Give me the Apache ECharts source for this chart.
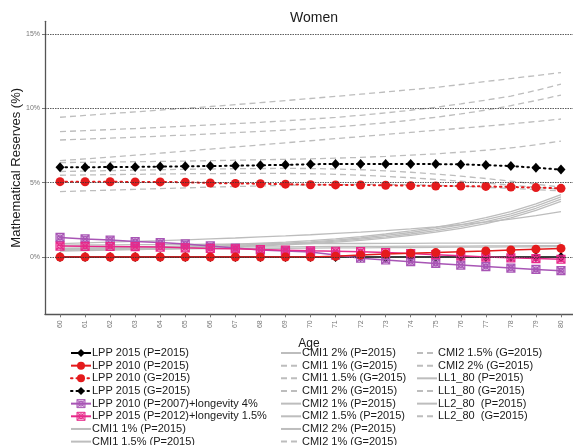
<!DOCTYPE html>
<html><head><meta charset="utf-8">
<script src="https://cdn.jsdelivr.net/npm/echarts@6/dist/echarts.min.js"></script>
<style>html,body{margin:0;padding:0;background:#fff}#c{width:573px;height:445px}</style>
</head><body><div id="c"></div>
<script>
const ages = [60,61,62,63,64,65,66,67,68,69,70,71,72,73,74,75,76,77,78,79,80];
const yTicks = [0,5,10,15];
// coloured series (%)
const lpp2015P = [0,0,0,0,0,0,0,0,0,0,0,0,0,0,0,0,0,0,0,0,0];
const lpp2010P = [0,0,0,0,0,0,0,0,0,0,0,0.05,0.13,0.2,0.26,0.3,0.36,0.41,0.47,0.53,0.58];
const lpp2010G = [5.07,5.06,5.06,5.05,5.05,5.03,4.98,4.95,4.93,4.9,4.86,4.85,4.84,4.83,4.8,4.78,4.77,4.75,4.71,4.67,4.62];
const lpp2015G = [6.03,6.04,6.05,6.06,6.08,6.1,6.12,6.14,6.17,6.2,6.24,6.26,6.26,6.26,6.25,6.25,6.23,6.18,6.12,6.0,5.88];
const lpp2010Long4 = [1.32,1.22,1.14,1.04,0.97,0.88,0.75,0.6,0.48,0.4,0.34,0.13,-0.08,-0.2,-0.31,-0.43,-0.54,-0.64,-0.74,-0.83,-0.92];
const lpp2015Long15 = [0.74,0.72,0.71,0.7,0.67,0.62,0.58,0.55,0.5,0.46,0.42,0.39,0.36,0.3,0.23,0.16,0.08,0.0,-0.05,-0.1,-0.15];
// grey P (period) series
const cmi1_1P = [0.55,0.58,0.62,0.66,0.7,0.75,0.8,0.86,0.93,1.0,1.1,1.22,1.37,1.55,1.76,2.0,2.3,2.65,3.05,3.57,4.2];
const cmi1_15P = [0.5,0.53,0.56,0.6,0.64,0.68,0.73,0.79,0.86,0.93,1.02,1.14,1.28,1.45,1.65,1.89,2.17,2.51,2.91,3.43,4.05];
const cmi1_2P = [0.45,0.48,0.51,0.55,0.59,0.63,0.68,0.74,0.8,0.87,0.96,1.07,1.2,1.36,1.55,1.78,2.05,2.38,2.77,3.28,3.9];
const cmi2_1P = [0.4,0.43,0.46,0.5,0.54,0.58,0.63,0.69,0.75,0.82,0.9,1.0,1.12,1.27,1.45,1.67,1.93,2.25,2.64,3.14,3.75];
const cmi2_15P = [0.9,0.95,1.0,1.05,1.1,1.16,1.22,1.28,1.35,1.42,1.5,1.59,1.68,1.78,1.9,2.03,2.18,2.35,2.55,2.78,3.05];
const cmi2_2P = [0.8,0.81,0.82,0.83,0.84,0.85,0.86,0.87,0.88,0.89,0.9,0.91,0.91,0.92,0.92,0.93,0.93,0.93,0.93,0.93,0.93];
const ll1P = [0.6,0.61,0.62,0.63,0.64,0.65,0.66,0.67,0.68,0.69,0.7,0.71,0.72,0.72,0.73,0.74,0.74,0.75,0.75,0.76,0.76];
const ll2P = [0.5,0.51,0.52,0.53,0.54,0.55,0.56,0.57,0.58,0.59,0.6,0.61,0.62,0.63,0.64,0.65,0.66,0.67,0.68,0.69,0.7];
// grey G (generational) series
const cmi1_1G = [9.4,9.52,9.64,9.76,9.88,10.0,10.12,10.25,10.38,10.52,10.66,10.8,10.95,11.1,11.25,11.4,11.6,11.8,12.0,12.2,12.4];
const cmi1_15G = [8.43,8.5,8.57,8.64,8.72,8.8,8.88,8.97,9.06,9.16,9.27,9.39,9.53,9.69,9.87,10.07,10.3,10.55,10.82,11.2,11.63];
const cmi1_2G = [7.87,7.93,7.99,8.06,8.13,8.2,8.28,8.36,8.45,8.54,8.64,8.75,8.88,9.03,9.2,9.4,9.62,9.88,10.18,10.52,10.89];
const cmi2_1G = [6.48,6.6,6.72,6.85,6.98,7.12,7.26,7.4,7.54,7.68,7.82,7.96,8.1,8.24,8.38,8.52,8.66,8.8,8.95,9.11,9.28];
const cmi2_15G = [6.35,6.37,6.39,6.41,6.43,6.45,6.48,6.51,6.54,6.57,6.6,6.65,6.7,6.77,6.85,6.94,7.05,7.18,7.34,7.55,7.8];
const cmi2_2G = [5.75,5.78,5.81,5.84,5.87,5.9,5.92,5.94,5.95,5.96,5.95,5.92,5.87,5.8,5.7,5.58,5.44,5.28,5.1,4.9,4.7];
const ll1G = [5.5,5.52,5.54,5.56,5.58,5.6,5.61,5.62,5.62,5.62,5.6,5.56,5.5,5.42,5.33,5.22,5.1,4.97,4.83,4.69,4.55];
const ll2G = [4.4,4.45,4.5,4.55,4.6,4.65,4.7,4.74,4.78,4.82,4.85,4.87,4.88,4.88,4.86,4.82,4.76,4.69,4.61,4.53,4.45];

const legendCol1 = ['LPP 2015 (P=2015)','LPP 2010 (P=2015)','LPP 2010 (G=2015)','LPP 2015 (G=2015)','LPP 2010 (P=2007)+longevity 4%','LPP 2015 (P=2012)+longevity 1.5%','CMI1 1% (P=2015)','CMI1 1.5% (P=2015)'];
const legendCol2 = ['CMI1 2% (P=2015)','CMI1 1% (G=2015)','CMI1 1.5% (G=2015)','CMI1 2% (G=2015)','CMI2 1% (P=2015)','CMI2 1.5% (P=2015)','CMI2 2% (P=2015)','CMI2 1% (G=2015)'];
const legendCol3 = ['CMI2 1.5% (G=2015)','CMI2 2% (G=2015)','LL1_80 (P=2015)','LL1_80 (G=2015)','LL2_80  (P=2015)','LL2_80  (G=2015)'];

const FONT = 'Liberation Sans, Arial, sans-serif';
const GREY = '#bdbdbd';
const PURPLE = '#a855b5', PINK = '#e7298a', RED = '#e41a1c';
const pair = arr => ages.map((a,i)=>[a,arr[i]]);
const sqx = 'path://M0,0L10,0L10,10L0,10Z M0,0L10,10 M10,0L0,10 M8,5A3,3 0 1 1 2,5A3,3 0 1 1 8,5';

function grey(name, arr, dashed){
  return {name, type:'line', data:pair(arr), symbol:'none', z:2,
    lineStyle:{color:GREY, width:1.3, type: dashed ? [6,4] : 'solid'},
    itemStyle:{color:'rgba(0,0,0,0)', borderWidth:0}, emphasis:{disabled:true}};
}
const series = [
  grey('CMI1 1% (G=2015)', cmi1_1G, true),
  grey('CMI1 1.5% (G=2015)', cmi1_15G, true),
  grey('CMI1 2% (G=2015)', cmi1_2G, true),
  grey('CMI2 1% (G=2015)', cmi2_1G, true),
  grey('CMI2 1.5% (G=2015)', cmi2_15G, true),
  grey('CMI2 2% (G=2015)', cmi2_2G, true),
  grey('LL1_80 (G=2015)', ll1G, true),
  grey('LL2_80  (G=2015)', ll2G, true),
  grey('CMI1 1% (P=2015)', cmi1_1P, false),
  grey('CMI1 1.5% (P=2015)', cmi1_15P, false),
  grey('CMI1 2% (P=2015)', cmi1_2P, false),
  grey('CMI2 1% (P=2015)', cmi2_1P, false),
  grey('CMI2 1.5% (P=2015)', cmi2_15P, false),
  grey('CMI2 2% (P=2015)', cmi2_2P, false),
  grey('LL1_80 (P=2015)', ll1P, false),
  grey('LL2_80  (P=2015)', ll2P, false),
  {name:'LPP 2015 (G=2015)', type:'line', data:pair(lpp2015G), z:3,
    symbol:'diamond', symbolSize:[9,10], lineStyle:{color:'#000', width:2, type:[1.5,4], cap:'round'},
    itemStyle:{color:'#000'}},
  {name:'LPP 2010 (G=2015)', type:'line', data:pair(lpp2010G), z:3,
    symbol:'circle', symbolSize:9, lineStyle:{color:RED, width:2, type:[1.5,4], cap:'round'},
    itemStyle:{color:RED}},
  {name:'LPP 2015 (P=2015)', type:'line', data:pair(lpp2015P), z:3,
    symbol:'diamond', symbolSize:[9,10], lineStyle:{color:'#000', width:1.5},
    itemStyle:{color:'#000'}},
  {name:'LPP 2010 (P=2007)+longevity 4%', type:'line', data:pair(lpp2010Long4), z:3,
    symbol:sqx, symbolSize:8, lineStyle:{color:PURPLE, width:1.5},
    itemStyle:{color:'rgba(168,85,181,0.25)', borderColor:PURPLE, borderWidth:1.2}},
  {name:'LPP 2015 (P=2012)+longevity 1.5%', type:'line', data:pair(lpp2015Long15), z:3,
    symbol:sqx, symbolSize:8, lineStyle:{color:PINK, width:1.5},
    itemStyle:{color:'rgba(231,41,138,0.25)', borderColor:PINK, borderWidth:1.2}},
  {name:'LPP 2010 (P=2015)', type:'line', data:pair(lpp2010P), z:3,
    symbol:'circle', symbolSize:9, lineStyle:{color:RED, width:1.5},
    itemStyle:{color:RED}}
];
series[0].markLine = {silent:true, symbol:'none', label:{show:false},
  lineStyle:{color:'#333', width:0.8, type:[1.5,1]}, emphasis:{disabled:true},
  data: yTicks.map(v=>({yAxis:v}))};

const legendItemStyles = {
  'LPP 2010 (P=2007)+longevity 4%': {color:'rgba(168,85,181,0.3)', borderColor:PURPLE, borderWidth:1},
  'LPP 2015 (P=2012)+longevity 1.5%': {color:'rgba(231,41,138,0.3)', borderColor:PINK, borderWidth:1}
};
function legend(names, left){
  const data = names.map(n => legendItemStyles[n] ? {name:n, itemStyle:legendItemStyles[n]} : n);
  return {data, orient:'vertical', left, top:347, height:120, itemWidth:20, itemHeight:10, itemGap:0.66,
    selectedMode:false, padding:0,
    textStyle:{fontFamily:FONT, fontSize:11, color:'#1a1a1a', lineHeight:12, padding:[0,0,0,-4]}};
}

const chart = echarts.init(document.getElementById('c'), null, {renderer:'canvas'});
chart.setOption({
  animation:false,
  backgroundColor:'#fff',
  title:{text:'Women', left:309, top:6, textAlign:'center',
    textStyle:{fontFamily:FONT, fontSize:14, fontWeight:'normal', color:'#1a1a1a'}},
  grid:{left:45, right:0, top:21.3, bottom:130.7, containLabel:false, outerBoundsMode:'none'},
  xAxis:{type:'value', min:59.4, max:80.48,
    name:'Age', nameLocation:'middle', nameGap:23,
    nameTextStyle:{fontFamily:FONT, fontSize:12, color:'#1a1a1a'},
    axisLine:{show:true, onZero:false, lineStyle:{color:'#555', width:1.3}},
    axisTick:{show:true, length:3, customValues:ages, lineStyle:{color:'#777'}},
    axisLabel:{customValues:ages, rotate:90, fontSize:7, color:'#777', fontFamily:FONT, margin:6},
    splitLine:{show:false}},
  yAxis:{type:'value', min:-3.85, max:15.85,
    name:'Mathematical Reserves (%)', nameLocation:'middle', nameGap:22, nameMoveOverlap:false,
    nameTextStyle:{fontFamily:FONT, fontSize:13, color:'#1a1a1a'},
    axisLine:{show:true, lineStyle:{color:'#555', width:1.3}},
    axisTick:{show:true, length:3, customValues:yTicks, lineStyle:{color:'#777'}},
    axisLabel:{customValues:yTicks, formatter:v=>v+'%', fontSize:7, color:'#777', fontFamily:FONT, margin:5},
    splitLine:{show:false}},
  legend:[legend(legendCol1,70), legend(legendCol2,280), legend(legendCol3,416)],
  series
});
</script></body></html>
